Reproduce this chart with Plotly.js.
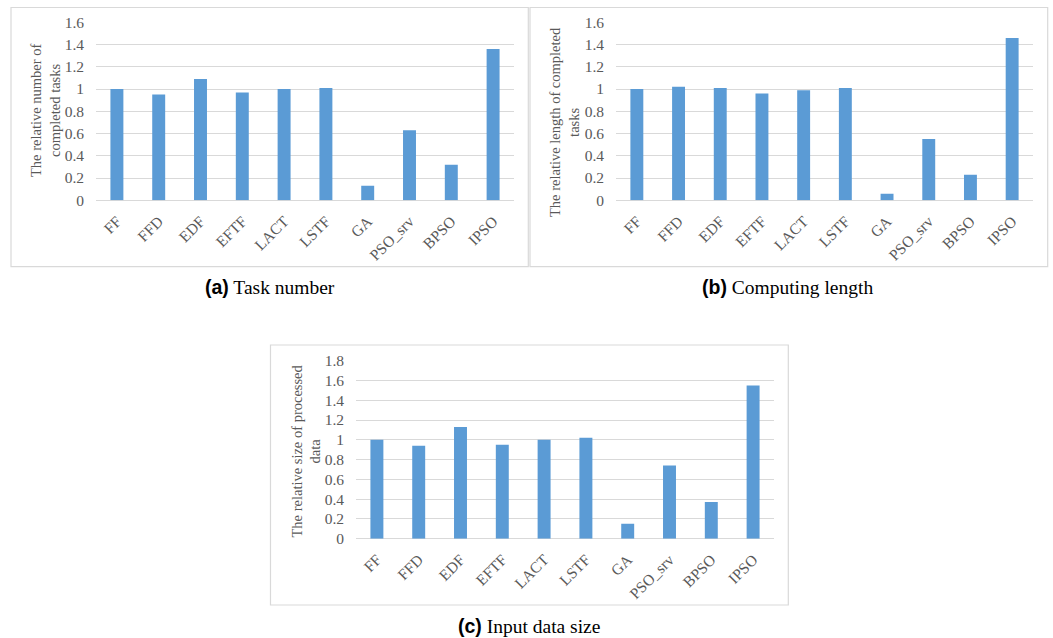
<!DOCTYPE html>
<html>
<head>
<meta charset="utf-8">
<script src="https://cdn.plot.ly/plotly-3.0.1.min.js"></script>
<style>html,body{margin:0;padding:0;background:#fff;}#chart{width:1053px;height:638px;}</style>
</head>
<body>
<div id="chart"></div>
<script>
const categories = ['FF','FFD','EDF','EFTF','LACT','LSTF','GA','PSO_srv','BPSO','IPSO'];
const taskNumber = [1.00,0.95,1.09,0.97,1.00,1.01,0.13,0.63,0.32,1.36];
const computingLength = [1.00,1.02,1.01,0.96,0.99,1.01,0.06,0.55,0.23,1.46];
const inputDataSize = [1.00,0.94,1.13,0.95,1.00,1.02,0.15,0.74,0.37,1.55];
const yTitles = ['The relative number of<br>completed tasks','The relative length of completed<br>tasks','The relative size of processed<br>data'];
const captions = ['Task number','Computing length','Input data size'];
const captionTags = ['(a)','(b)','(c)'];

const W = 1053, H = 638;
const px = v => v / W;
const py = v => 1 - v / H;
const BLUE = '#5b9bd5';
const GRID = '#d9d9d9';
const TXT = '#595959';
const SERIF = 'Liberation Serif';
const FS = 15.5;

function bar(y, xa, ya) {
  return {type:'bar', x:categories, y:y, xaxis:xa, yaxis:ya,
    marker:{color:BLUE, line:{width:0}}, hoverinfo:'x+y', showlegend:false};
}
const data = [bar(taskNumber,'x','y'), bar(computingLength,'x2','y2'), bar(inputDataSize,'x3','y3')];

function xa(d0, d1, anchor) {
  return {domain:[px(d0), px(d1)], anchor:anchor, type:'category', tickangle:-45,
    showgrid:false, zeroline:false, showline:false, ticks:'', ticklabelstandoff:8, fixedrange:true,
    tickfont:{family:SERIF, size:FS, color:TXT}};
}
function ya(t0, t1, max, anchor) {
  return {domain:[py(t1), py(t0)], anchor:anchor, range:[0,max], dtick:0.2, tick0:0,
    showgrid:true, gridcolor:GRID, gridwidth:1, zeroline:true, zerolinecolor:GRID, zerolinewidth:1,
    showline:false, ticks:'', ticklabelstandoff:11, fixedrange:true,
    tickfont:{family:SERIF, size:FS, color:TXT}};
}

const frames = [[11,7.5,528.3,266.7],[530,7.5,1047.7,266.7],[270.5,345,788.3,605]];
const shapes = frames.map(f => ({type:'rect', xref:'paper', yref:'paper', layer:'below',
  x0:px(f[0]), x1:px(f[2]), y0:py(f[3]), y1:py(f[1]), line:{color:GRID, width:1.2}, fillcolor:'rgba(0,0,0,0)'}));

const ytPos = [[46,111],[564.5,122.5],[306,451.5]];
const capPos = [[269.6,287],[787.6,287],[528.6,626]];
const annotations = [];
for (let i=0;i<3;i++) {
  annotations.push({xref:'paper', yref:'paper', x:px(ytPos[i][0]), y:py(ytPos[i][1]),
    xanchor:'center', yanchor:'middle', textangle:-90, showarrow:false, text:yTitles[i],
    font:{family:SERIF, size:14.5, color:TXT}});
  annotations.push({xref:'paper', yref:'paper', x:px(capPos[i][0]), y:py(capPos[i][1]),
    xanchor:'center', yanchor:'middle', showarrow:false,
    text:'<span style="font-family:Liberation Sans, Arial, sans-serif;font-weight:bold">'+captionTags[i]+'</span> '+captions[i],
    font:{family:SERIF, size:19.5, color:'#000'}});
}

const layout = {
  width:W, height:H, margin:{l:0,r:0,t:0,b:0,pad:0},
  paper_bgcolor:'#fff', plot_bgcolor:'rgba(0,0,0,0)', bargap:0.69, showlegend:false,
  xaxis:xa(96,514,'y'), yaxis:ya(22.3,200.3,1.6,'x'),
  xaxis2:xa(616,1033,'y2'), yaxis2:ya(22.3,200.3,1.6,'x2'),
  xaxis3:xa(356,774,'y3'), yaxis3:ya(360.7,538.7,1.8,'x3'),
  shapes:shapes, annotations:annotations
};
Plotly.newPlot('chart', data, layout, {displayModeBar:false, staticPlot:true});
</script>
</body>
</html>
